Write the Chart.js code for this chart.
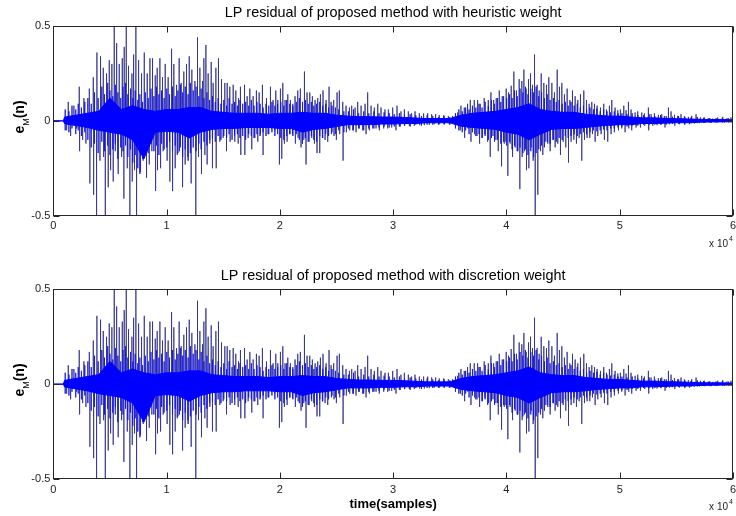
<!DOCTYPE html>
<html>
<head>
<meta charset="utf-8">
<script src="https://cdn.jsdelivr.net/npm/chart.js@4.4.1/dist/chart.umd.min.js"></script>
<style>
  html, body { margin: 0; padding: 0; background: #fff; }
  .panel { position: absolute; left: 0; width: 736px; height: 258px; }
</style>
</head>
<body>
<div class="panel" style="top:0"><canvas id="top" width="736" height="258"></canvas></div>
<div class="panel" style="top:258px"><canvas id="bottom" width="736" height="258"></canvas></div>
<script>
// residual peaks (x in samples, y = e_M(n))
// both panels show the same peaks at the same places, so they share these arrays
const upX = [
  1320,1820,2290,2700,3180,3530,3850,4170,4410,4700,
  4940,5170,5380,5590,5820,6090,6260,6440,6640,6940,
  7090,7290,7530,7790,8030,8290,8530,8760,9000,9170,
  9410,9640,9880,10140,10440,10640,10880,11110,11290,11520,
  11760,12000,12230,12500,12730,12940,13170,13290,13470,13670,
  13940,14110,14350,14580,14850,15140,15350,15580,15880,16110,
  16350,16520,16880,17110,17350,17640,17930,18170,18460,18820,
  19170,19400,19640,19820,
  20050,20260,20460,20700,20930,21140,21340,21580,21810,22170,
  22400,22640,22870,23110,23340,23580,23810,24080,24340,24520,
  24750,25050,25250,25550,25840,26140,26340,26640,26870,27170,
  27520,27750,28050,28340,28640,28930,29280,29580,29960,30340,
  30690,30990,31340,31630,31930,32310,32690,33050,33400,33750,
  34070,34460,34870,35250,35690,35985,36280,36570,36810,37160,
  37455,37690,38040,38400,38630,38870,39100,39370,39630,
  39980,40185,40420,40655,40890,41125,41360,41540,41740,41950,
  42125,42300,42480,42710,42890,43070,43300,43535,43740,44010,
  44240,44480,44680,44890,45120,45360,45595,45830,46065,46300,
  46535,46830,47065,47300,47535,47770,48005,48300,48590,48830,
  49090,49300,49590,49830,50060,50360,50560,50770,51000,51360,
  51590,51945,52180,52530,52770,53060,53410,53710,53940,54300,
  54530,54830,55120,55410,55710,56060,56355,56740,57120,57470,
  57820,58210,58650,59090,59470,59820
];
const upY = [
  0.10,0.08,0.18,0.12,0.17,0.23,0.36,0.34,0.28,0.25,
  0.32,0.30,0.62,0.41,0.30,0.33,0.39,0.62,0.29,0.25,
  0.35,0.62,0.32,0.25,0.36,0.25,0.33,0.33,0.24,0.28,
  0.33,0.23,0.30,0.23,0.38,0.30,0.19,0.33,0.20,0.26,
  0.30,0.34,0.27,0.21,0.44,0.28,0.21,0.33,0.40,0.25,
  0.31,0.20,0.28,0.33,0.22,0.20,0.20,0.18,0.19,0.16,
  0.12,0.18,0.19,0.13,0.17,0.13,0.16,0.15,0.19,0.12,
  0.18,0.11,0.16,0.11,
  0.17,0.20,0.11,0.14,0.11,0.09,0.13,0.16,0.17,0.26,
  0.15,0.15,0.13,0.11,0.12,0.14,0.16,0.11,0.18,0.10,
  0.11,0.15,0.16,0.10,0.08,0.07,0.08,0.07,0.10,0.08,
  0.09,0.15,0.08,0.07,0.09,0.07,0.06,0.06,0.07,0.08,
  0.05,0.06,0.05,0.04,0.05,0.04,0.04,0.04,0.035,0.035,
  0.03,0.03,0.026,0.026,0.044,0.08,0.07,0.09,0.11,0.11,
  0.11,0.09,0.12,0.11,0.15,0.11,0.12,0.16,0.13,
  0.17,0.15,0.185,0.26,0.16,0.22,0.21,0.27,0.17,0.22,
  0.25,0.19,0.35,0.19,0.16,0.25,0.20,0.19,0.23,0.20,
  0.15,0.27,0.18,0.20,0.14,0.17,0.11,0.16,0.13,0.11,
  0.14,0.16,0.11,0.09,0.10,0.09,0.08,0.07,0.09,0.06,
  0.08,0.11,0.07,0.056,0.06,0.08,0.056,0.10,0.06,0.044,
  0.05,0.044,0.04,0.07,0.035,0.04,0.032,0.035,0.026,0.07,
  0.05,0.032,0.026,0.035,0.025,0.021,0.026,0.035,0.018,0.018,
  0.014,0.012,0.018,0.021,0.014,0.018
];
const downX = [
  1180,1530,2060,2320,2590,2880,3230,3560,3820,4120,
  4440,4590,4850,5060,5290,5470,5730,6030,6230,6530,
  6760,6970,7170,7350,7700,7940,8230,8470,8700,9030,
  9200,9470,9700,10050,10290,10530,10760,10940,11140,11410,
  11640,11880,12170,12580,12820,13080,13380,13580,13820,14050,
  14380,14700,14990,15290,15610,16020,16320,16550,16910,17200,
  17520,17790,18050,18290,18520,18960,19260,19550,
  19960,20170,20400,20640,20870,21110,21370,21610,21870,22110,
  22310,22580,22810,23050,23280,23520,23755,23990,24225,24550,
  24780,24990,25285,25580,25870,26170,26430,26725,27020,27310,
  27610,27900,28195,28490,28780,29165,29520,29870,30250,30630,
  31020,31430,31870,32340,32750,33190,33630,34100,34515,34955,
  35400,35930,36310,36600,36870,37190,37400,37630,37870,38100,
  38340,38570,38810,39070,39280,39570,39810,
  39950,40125,40330,40540,40770,41010,41185,41390,41600,41770,
  41980,42185,42360,42540,42770,43010,43210,43420,43650,43860,
  44095,44300,44535,44770,45010,45240,45480,45710,45950,46180,
  46420,46650,46890,47120,47360,47595,47830,48065,48360,48650,
  48945,49240,49530,49890,50180,50475,50800,51060,51445,51830,
  52210,52560,52915,53300,53650,54000,54385,54860,55270,55740,
  56150,56590,57030,57500,58060,58680,59235,59850
];
const downY = [
  -0.05,-0.08,-0.04,-0.16,-0.10,-0.12,-0.33,-0.39,-0.62,-0.21,
  -0.19,-0.62,-0.35,-0.26,-0.32,-0.16,-0.28,-0.19,-0.41,-0.25,
  -0.62,-0.32,-0.26,-0.62,-0.27,-0.21,-0.30,-0.23,-0.16,-0.37,
  -0.26,-0.25,-0.16,-0.21,-0.32,-0.37,-0.25,-0.18,-0.16,-0.35,
  -0.23,-0.19,-0.33,-0.62,-0.19,-0.28,-0.18,-0.23,-0.12,-0.25,
  -0.25,-0.11,-0.09,-0.16,-0.11,-0.11,-0.12,-0.18,-0.18,-0.09,
  -0.15,-0.09,-0.11,-0.07,-0.18,-0.07,-0.04,-0.05,
  -0.23,-0.20,-0.12,-0.11,-0.07,-0.07,-0.12,-0.09,-0.14,-0.10,
  -0.23,-0.11,-0.09,-0.12,-0.17,-0.17,-0.09,-0.10,-0.11,-0.07,
  -0.08,-0.10,-0.07,-0.21,-0.06,-0.05,-0.05,-0.06,-0.04,-0.05,
  -0.07,-0.05,-0.04,-0.04,-0.05,-0.04,-0.04,-0.035,-0.05,-0.03,
  -0.026,-0.026,-0.026,-0.023,-0.023,-0.021,-0.018,-0.018,-0.018,-0.018,
  -0.018,-0.05,-0.09,-0.04,-0.11,-0.07,-0.08,-0.12,-0.09,-0.07,
  -0.11,-0.19,-0.08,-0.10,-0.16,-0.24,-0.12,
  -0.11,-0.29,-0.12,-0.19,-0.14,-0.16,-0.36,-0.19,-0.16,-0.26,
  -0.25,-0.14,-0.21,-0.62,-0.39,-0.16,-0.18,-0.11,-0.12,-0.16,
  -0.10,-0.14,-0.12,-0.18,-0.11,-0.14,-0.22,-0.11,-0.10,-0.12,
  -0.09,-0.21,-0.10,-0.09,-0.09,-0.07,-0.11,-0.08,-0.07,-0.10,
  -0.11,-0.07,-0.06,-0.05,-0.04,-0.06,-0.04,-0.05,-0.035,-0.035,
  -0.026,-0.05,-0.026,-0.023,-0.021,-0.035,-0.018,-0.026,-0.018,-0.021,
  -0.018,-0.014,-0.012,-0.011,-0.011,-0.009,-0.009,-0.007
];

// the blue fuzz round the dense part: short strokes from minorDown up to minorUp
const minorX = [
  1050,1380,1650,1980,2200,2480,2780,
  3050,3350,3640,3960,4280,4520,4800,5000,5250,5480,5700,5950,6150,6380,6580,6820,7020,7230,7460,7640,7880,
  8120,8380,8620,8880,9100,9320,9560,9780,10020,10260,10520,10760,11000,11220,11420,11650,11900,12100,12350,12600,12850,13050,13300,13560,13800,
  14050,14300,14550,14800,15050,15300,15520,15780,16000,16250,16480,16720,16980,17250,17480,17720,17980,18250,18520,18780,19020,19300,19560,19800,
  20080,20350,20600,20880,21150,21450,21720,22000,22250,22500,22780,23000,23250,23520,23780,24050,24300,24600,24900,
  25200,25650,26050,26500,26950,27400,27850,28300,28750,29200,29650,30100,30550,31000,31500,32000,32500,33000,33500,34000,34500,35000,
  35500,35800,36100,36400,36700,37000,37300,37580,37850,38120,38400,38680,38950,39220,39500,39750,
  40020,40280,40500,40720,40950,41200,41450,41680,41900,42150,42400,42620,42850,43100,43350,43600,43850,44150,44400,
  44650,44920,45200,45450,45700,45980,46250,46520,46800,47080,47380,47680,47980,48280,48580,48880,49200,49520,49850,
  50200,50650,51100,51600,52100,52600,53100,53600,54100,54650,55200,55750,56300,56850,57400,57950,58500,59050,59600
];
const minorUp = [
  0.06,0.05,0.08,0.06,0.09,0.07,0.10,
  0.12,0.09,0.15,0.12,0.18,0.14,0.20,0.16,0.13,0.19,0.15,0.12,0.18,0.20,0.14,0.17,0.12,0.16,0.11,0.14,0.10,
  0.15,0.12,0.17,0.13,0.18,0.14,0.16,0.12,0.17,0.14,0.18,0.13,0.16,0.19,0.15,0.18,0.14,0.20,0.16,0.18,0.13,0.17,0.12,0.15,0.11,
  0.13,0.10,0.12,0.09,0.11,0.08,0.12,0.09,0.10,0.08,0.11,0.09,0.10,0.08,0.11,0.08,0.10,0.09,0.07,0.09,0.08,0.10,0.08,0.09,
  0.10,0.08,0.11,0.09,0.08,0.10,0.12,0.10,0.11,0.09,0.10,0.08,0.09,0.10,0.08,0.09,0.07,0.08,0.07,
  0.06,0.05,0.05,0.06,0.04,0.05,0.04,0.05,0.04,0.045,0.04,0.035,0.04,0.03,0.035,0.03,0.025,0.03,0.025,0.02,0.025,0.02,
  0.04,0.06,0.05,0.07,0.06,0.08,0.07,0.09,0.07,0.10,0.08,0.11,0.09,0.12,0.10,0.13,
  0.12,0.14,0.12,0.16,0.13,0.17,0.15,0.18,0.14,0.17,0.15,0.18,0.13,0.15,0.12,0.14,0.11,0.12,0.10,
  0.11,0.09,0.10,0.08,0.10,0.08,0.09,0.07,0.08,0.06,0.07,0.06,0.065,0.05,0.06,0.05,0.045,0.05,0.04,
  0.04,0.035,0.04,0.03,0.03,0.035,0.025,0.03,0.025,0.022,0.025,0.02,0.018,0.02,0.016,0.015,0.014,0.015,0.013
];
const minorDown = [
  -0.05,-0.06,-0.04,-0.07,-0.05,-0.08,-0.06,
  -0.10,-0.14,-0.12,-0.17,-0.11,-0.16,-0.13,-0.18,-0.15,-0.12,-0.20,-0.14,-0.16,-0.13,-0.19,-0.15,-0.22,-0.18,-0.25,-0.28,-0.20,
  -0.14,-0.17,-0.12,-0.16,-0.13,-0.18,-0.12,-0.15,-0.14,-0.11,-0.16,-0.13,-0.17,-0.14,-0.19,-0.15,-0.21,-0.17,-0.14,-0.16,-0.12,-0.15,-0.11,-0.13,-0.10,
  -0.09,-0.11,-0.08,-0.10,-0.08,-0.09,-0.07,-0.10,-0.08,-0.07,-0.09,-0.08,-0.10,-0.07,-0.08,-0.09,-0.07,-0.08,-0.06,-0.08,-0.07,-0.06,-0.08,-0.07,
  -0.09,-0.10,-0.08,-0.07,-0.08,-0.07,-0.10,-0.12,-0.09,-0.11,-0.08,-0.10,-0.11,-0.08,-0.09,-0.07,-0.08,-0.06,-0.07,
  -0.05,-0.06,-0.04,-0.05,-0.04,-0.05,-0.04,-0.04,-0.035,-0.03,-0.035,-0.03,-0.03,-0.025,-0.03,-0.02,-0.025,-0.02,-0.02,-0.02,-0.018,-0.02,
  -0.04,-0.05,-0.06,-0.05,-0.07,-0.06,-0.08,-0.07,-0.09,-0.08,-0.10,-0.09,-0.11,-0.10,-0.12,-0.11,
  -0.13,-0.11,-0.15,-0.13,-0.16,-0.14,-0.17,-0.15,-0.18,-0.16,-0.19,-0.17,-0.15,-0.13,-0.14,-0.11,-0.12,-0.10,-0.11,
  -0.09,-0.10,-0.08,-0.09,-0.08,-0.07,-0.08,-0.07,-0.06,-0.07,-0.06,-0.05,-0.055,-0.05,-0.045,-0.05,-0.04,-0.04,-0.035,
  -0.03,-0.03,-0.025,-0.025,-0.02,-0.022,-0.02,-0.018,-0.02,-0.016,-0.015,-0.015,-0.013,-0.012,-0.01,-0.01,-0.01,-0.009,-0.008
];

// solid blue band in the middle: upper / lower edge
const coreX = [
  0,880,1000,2000,3000,4000,5000,6000,7000,8000,9000,
  10000,11000,12000,13000,14000,15000,16000,17000,18000,19000,
  20000,21000,22000,23000,24000,25000,26000,27000,28000,29000,
  30000,31000,32000,33000,34000,35000,36000,37000,38000,39000,
  40000,41000,42000,43000,44000,45000,46000,47000,48000,49000,
  50000,51000,52000,53000,54000,55000,56000,57000,58000,59000,
  60000
];
const coreUp = [
  0,0,0.02,0.03,0.04,0.05,0.12,0.06,0.08,0.06,0.05,
  0.06,0.06,0.07,0.07,0.05,0.045,0.04,0.04,0.04,0.035,
  0.04,0.04,0.045,0.04,0.04,0.03,0.025,0.022,0.022,0.02,
  0.02,0.018,0.015,0.012,0.012,0.012,0.03,0.04,0.045,0.05,
  0.06,0.07,0.09,0.06,0.05,0.045,0.045,0.035,0.03,0.025,
  0.025,0.02,0.016,0.016,0.013,0.012,0.01,0.008,0.007,0.007,
  0.006
];
const coreLow = [
  0,0,-0.015,-0.025,-0.035,-0.05,-0.06,-0.07,-0.10,-0.20,-0.06,
  -0.055,-0.06,-0.09,-0.06,-0.045,-0.04,-0.04,-0.035,-0.035,-0.035,
  -0.04,-0.04,-0.06,-0.045,-0.04,-0.03,-0.02,-0.02,-0.02,-0.017,
  -0.017,-0.014,-0.014,-0.01,-0.01,-0.01,-0.028,-0.035,-0.04,-0.045,
  -0.06,-0.07,-0.10,-0.07,-0.045,-0.04,-0.04,-0.035,-0.028,-0.024,
  -0.02,-0.02,-0.014,-0.014,-0.012,-0.01,-0.01,-0.007,-0.006,-0.005,
  -0.005
];

const xTicks = ['0', '1', '2', '3', '4', '5', '6'];
const yTicks = ['-0.5', '0', '0.5'];

const BLUE = '#0000ff';
const SPIKE = 'rgba(45,45,140,0.8)';
const FUZZ = 'rgba(20,20,230,0.85)';
const FONT = '"Liberation Sans", Arial, Helvetica, sans-serif';
Chart.defaults.font.family = FONT;

function pairs(xs, ys) {
  return xs.map((x, i) => ({ x: x, y: ys[i] }));
}
// each peak is a vertical stroke from 0 out to its value and back
function spikes(xs, ys) {
  const pts = [];
  xs.forEach((x, i) => {
    pts.push({ x: x, y: 0 }, { x: x, y: ys[i] }, { x: x, y: 0 });
  });
  return pts;
}
function strokes(xs, hi, lo) {
  const pts = [];
  xs.forEach((x, i) => {
    pts.push({ x: x, y: 0 }, { x: x, y: hi[i] }, { x: x, y: lo[i] }, { x: x, y: 0 });
  });
  return pts;
}

const framePlugin = {
  id: 'frame',
  afterDraw(chart, args, o) {
    const { ctx, chartArea: a, scales } = chart;
    const x = scales.x, y = scales.y;
    ctx.save();
    ctx.strokeStyle = '#262626';
    ctx.lineWidth = 1;
    const L = Math.round(a.left) + 0.5, R = Math.round(a.right) - 0.5;
    const T = Math.round(a.top) + 0.5, B = Math.round(a.bottom) - 0.5;
    ctx.strokeRect(L, T, R - L, B - T);
    ctx.beginPath();
    x.ticks.forEach(t => {
      const p = Math.round(x.getPixelForValue(t.value)) + 0.5;
      ctx.moveTo(p, T); ctx.lineTo(p, T + 6);
      ctx.moveTo(p, B); ctx.lineTo(p, B - 6);
    });
    y.ticks.forEach(t => {
      const p = Math.round(y.getPixelForValue(t.value)) + 0.5;
      ctx.moveTo(L, p); ctx.lineTo(L + 6, p);
      ctx.moveTo(R, p); ctx.lineTo(R - 6, p);
    });
    ctx.stroke();

    ctx.fillStyle = '#000';
    ctx.font = '14.4px ' + FONT;
    ctx.textAlign = 'center';
    ctx.textBaseline = 'middle';
    ctx.fillText(o.title, (a.left + a.right) / 2, o.titleY);

    if (o.xlabel) {
      ctx.font = 'bold 13px ' + FONT;
      ctx.fillText(o.xlabel, (a.left + a.right) / 2, o.xlabelY);
    }

    // x 10^4
    ctx.textBaseline = 'alphabetic';
    ctx.fillStyle = '#222';
    ctx.font = '10px ' + FONT;
    ctx.textAlign = 'right';
    ctx.fillText('x 10', 728, o.expY);
    ctx.font = '7px ' + FONT;
    ctx.textAlign = 'left';
    ctx.fillText('4', 729, o.expY - 6);

    // e_M(n)
    ctx.fillStyle = '#000';
    ctx.translate(24, o.labelY);
    ctx.rotate(-Math.PI / 2);
    const fb = 'bold 14px ' + FONT, fs = '9px ' + FONT;
    ctx.font = fb; const we = ctx.measureText('e').width, wn = ctx.measureText('(n)').width;
    ctx.font = fs; const wm = ctx.measureText('M').width;
    let cx = -(we + wm + wn) / 2;
    ctx.font = fb; ctx.fillText('e', cx, 0); cx += we;
    ctx.font = fs; ctx.fillText('M', cx, 5); cx += wm;
    ctx.font = fb; ctx.fillText('(n)', cx, 0);
    ctx.restore();
  }
};

function makeChart(id, f) {
  return new Chart(document.getElementById(id), {
    type: 'line',
    data: {
      datasets: [
        { data: pairs(coreX, coreUp), borderColor: BLUE, backgroundColor: BLUE, borderWidth: 1, fill: '+1', order: 1 },
        { data: pairs(coreX, coreLow), borderColor: BLUE, borderWidth: 1, fill: false, order: 1 },
        { data: strokes(minorX, minorUp, minorDown), borderColor: FUZZ, borderWidth: 1, fill: false, order: 2 },
        { data: spikes(upX, upY), borderColor: SPIKE, borderWidth: 1, fill: false, order: 3 },
        { data: spikes(downX, downY), borderColor: SPIKE, borderWidth: 1, fill: false, order: 3 }
      ]
    },
    options: {
      responsive: false,
      animation: false,
      devicePixelRatio: 1,
      layout: { padding: { top: f.padTop, right: 3, left: 0, bottom: 0 } },
      elements: {
        point: { radius: 0 },
        line: { tension: 0, borderJoinStyle: 'bevel' }
      },
      plugins: {
        legend: { display: false },
        tooltip: { enabled: false },
        frame: f
      },
      scales: {
        x: {
          type: 'linear', min: 0, max: 60000,
          grid: { display: false, drawTicks: false },
          border: { display: false },
          ticks: {
            stepSize: 10000, padding: 4, maxRotation: 0, autoSkip: false,
            color: '#222', font: { size: 11 },
            callback: (v, i) => xTicks[i]
          },
          afterFit: s => { s.height = f.xAxisH; s.paddingLeft = 0; s.paddingRight = 0; }
        },
        y: {
          min: -0.5, max: 0.5,
          grid: { display: false, drawTicks: false },
          border: { display: false },
          ticks: {
            stepSize: 0.5, padding: 3,
            color: '#222', font: { size: 11 },
            callback: (v, i) => yTicks[i]
          },
          afterFit: s => { s.width = 53.3; s.paddingTop = 0; s.paddingBottom = 0; }
        }
      }
    },
    plugins: [framePlugin]
  });
}

makeChart('top', {
  title: 'LP residual of proposed method with heuristic weight',
  padTop: 26, xAxisH: 42.3, titleY: 13, labelY: 117, expY: 247
});
makeChart('bottom', {
  title: 'LP residual of proposed method with discretion weight',
  padTop: 31.3, xAxisH: 37, titleY: 18, labelY: 122, expY: 252,
  xlabel: 'time(samples)', xlabelY: 246
});
</script>
</body>
</html>
